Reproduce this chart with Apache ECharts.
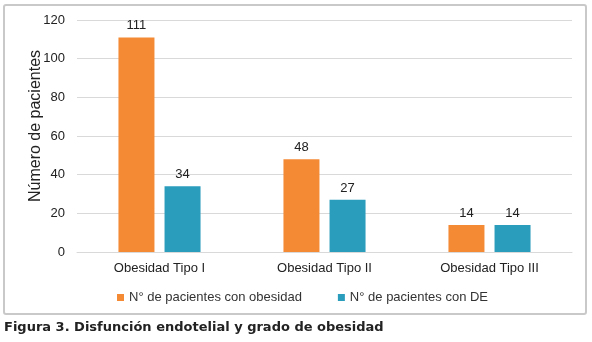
<!DOCTYPE html>
<html>
<head>
<meta charset="utf-8">
<script src="https://cdn.jsdelivr.net/npm/echarts@6/dist/echarts.min.js"></script>
<style>
  html, body { margin: 0; padding: 0; background: #fff; }
  #chart { width: 592px; height: 342px; }
</style>
</head>
<body>
<div id="chart"></div>
<script>
// datos
var categorias = ['Obesidad Tipo I', 'Obesidad Tipo II', 'Obesidad Tipo III'];
var conObesidad = [111, 48, 14];
var conDE = [34, 27, 14];
var serieNombres = ['N° de pacientes con obesidad', 'N° de pacientes con DE'];

var chart = echarts.init(document.getElementById('chart'));
var font = 'Liberation Sans, Arial, sans-serif';

var option = {
  animation: false,
  textStyle: { fontFamily: font },
  graphic: [
    {
      type: 'rect',
      shape: { x: 4, y: 5, width: 582, height: 309, r: 2 },
      style: { fill: 'none', stroke: '#c9c9c9', lineWidth: 2 },
      z: -1
    },
    {
      type: 'text',
      left: 4,
      top: 321,
      style: {
        text: 'Figura 3. Disfunción endotelial y grado de obesidad',
        font: 'bold 13px DejaVu Sans',
        fill: '#222'
      }
    }
  ],
  legend: {
    data: serieNombres,
    left: 117,
    top: 291,
    padding: 0,
    icon: 'rect',
    itemWidth: 7,
    itemHeight: 7,
    itemGap: 36,
    textStyle: { fontSize: 13, color: '#333', fontFamily: font }
  },
  grid: { left: 77, right: 20, top: 20, bottom: 90 },
  xAxis: {
    type: 'category',
    data: categorias,
    axisLine: { lineStyle: { color: '#d9d9d9' } },
    axisTick: { show: false },
    axisLabel: { fontSize: 13, color: '#222', margin: 10 }
  },
  yAxis: {
    type: 'value',
    min: 0,
    max: 120,
    interval: 20,
    name: 'Número de pacientes',
    nameLocation: 'middle',
    nameGap: 33,
    nameMoveOverlap: false,
    nameTextStyle: { fontSize: 16, color: '#222', padding: [0, 0, 0, 20] },
    axisLine: { show: false },
    axisTick: { show: false },
    axisLabel: { fontSize: 13, color: '#222', margin: 12 },
    splitLine: { lineStyle: { color: '#d9d9d9' } }
  },
  series: [
    {
      name: serieNombres[0],
      type: 'bar',
      data: conObesidad,
      barWidth: 36,
      barGap: '28%',
      itemStyle: { color: '#f58a35' },
      label: { show: true, position: 'top', fontSize: 13, color: '#222', distance: 5 }
    },
    {
      name: serieNombres[1],
      type: 'bar',
      data: conDE,
      barWidth: 36,
      itemStyle: { color: '#2a9cbc' },
      label: { show: true, position: 'top', fontSize: 13, color: '#222', distance: 5 }
    }
  ]
};

chart.setOption(option);
</script>
</body>
</html>
